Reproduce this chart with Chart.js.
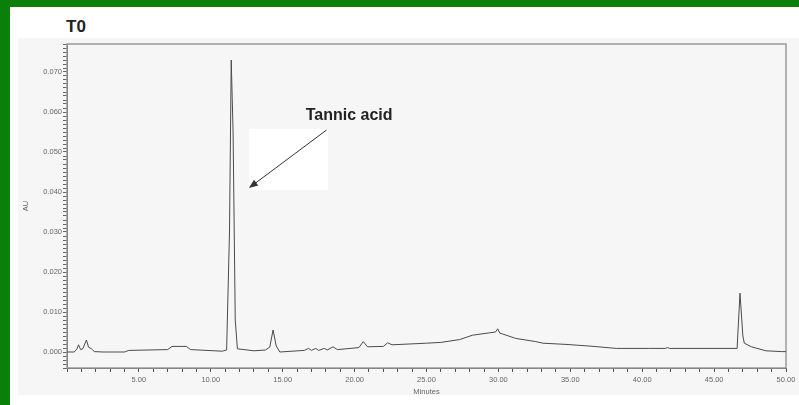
<!DOCTYPE html>
<html>
<head>
<meta charset="utf-8">
<title>T0</title>
<script src="https://cdn.jsdelivr.net/npm/chart.js@4/dist/chart.umd.min.js"></script>
<style>
  html, body { margin: 0; padding: 0; }
  body { width: 799px; height: 405px; background: #0a800a; position: relative; overflow: hidden; }
  #panel { position: absolute; left: 10px; top: 7px; width: 789px; height: 398px; background: #ffffff; }
  #shot { position: absolute; left: 18px; top: 38px; width: 781px; height: 357px; background: #f6f6f6; }
  #label { position: absolute; left: 66px; top: 17px; font: bold 17px "Liberation Sans", Arial, sans-serif; color: #222; }
  #chart { position: absolute; left: 0; top: 0; }
</style>
</head>
<body>
<div id="panel"></div>
<div id="shot"></div>
<div id="label">T0</div>
<canvas id="chart" width="799" height="405"></canvas>
<script>
// retention time (minutes) and absorbance (AU)
const minutes = [
  0.0, 0.5, 0.7, 0.8, 0.95, 1.1, 1.35, 1.5, 1.7, 1.9, 2.5, 4.0, 4.3, 7.0, 7.3, 8.3, 8.6, 10.8,
  11.1, 11.3, 11.42, 11.55, 11.7, 11.85, 13.0, 13.8, 14.1, 14.33, 14.55, 14.8,
  16.5, 16.8, 17.0, 17.3, 17.5, 17.9, 18.1, 18.5, 18.8, 20.3, 20.6, 20.9, 22.0, 22.3, 22.6,
  25.0, 26.0, 27.3, 28.2, 29.4, 29.8, 29.95, 30.1, 30.3, 31.2, 32.6, 33.1, 34.7, 36.3, 38.2,
  40.5, 41.6, 41.75, 41.9, 46.6, 46.8, 47.0, 47.1, 47.6, 48.6, 49.7, 50.0
];
const absorbance = [
  0.0000, 0.0000, 0.0008, 0.0018, 0.0006, 0.0008, 0.0030, 0.0012, 0.0008, 0.0001, 0.0000, 0.0000, 0.0004, 0.0006, 0.0014, 0.0014, 0.0006, 0.0002,
  0.0005, 0.0300, 0.0730, 0.0550, 0.0080, 0.0008, 0.0003, 0.0005, 0.0012, 0.0055, 0.0015, 0.0000,
  0.0004, 0.0009, 0.0004, 0.0009, 0.0004, 0.0009, 0.0005, 0.0013, 0.0006, 0.0011, 0.0026, 0.0013, 0.0014, 0.0023, 0.0018,
  0.0022, 0.0024, 0.0031, 0.0042, 0.0048, 0.0050, 0.0058, 0.0047, 0.0045, 0.0034, 0.0026, 0.0022, 0.0019, 0.0015, 0.0009,
  0.0009, 0.0009, 0.0011, 0.0009, 0.0009, 0.0147, 0.0040, 0.0022, 0.0013, 0.0003, 0.0001, 0.0001
];

const xMin = 0, xMax = 50;
const yMin = -0.004, yMax = 0.077;

// annotation, in data units
const noteText = "Tannic acid";
const noteAt = { x: 16.6, y: 0.0590 };
const arrowFrom = { x: 18.05, y: 0.0555 };
const arrowTo = { x: 12.65, y: 0.0410 };
const patch = { x0: 12.65, x1: 18.15, y0: 0.0405, y1: 0.0558 };

const font = '"Liberation Sans", Arial, sans-serif';

const framePlugin = {
  id: "frame",
  beforeDatasetsDraw(chart) {
    const { ctx, chartArea: a, scales } = chart;
    ctx.save();
    ctx.strokeStyle = "#9a9a9a";
    ctx.lineWidth = 1.5;
    ctx.strokeRect(a.left, a.top, a.right - a.left, a.bottom - a.top);
    // white patch behind the arrow
    const px0 = scales.x.getPixelForValue(patch.x0);
    const px1 = scales.x.getPixelForValue(patch.x1);
    const py0 = scales.y.getPixelForValue(patch.y1);
    const py1 = scales.y.getPixelForValue(patch.y0);
    ctx.fillStyle = "#ffffff";
    ctx.fillRect(px0, py0, px1 - px0, py1 - py0);
    ctx.restore();
  },
};

const notePlugin = {
  id: "note",
  afterDatasetsDraw(chart) {
    const { ctx, scales } = chart;
    const x1 = scales.x.getPixelForValue(arrowFrom.x);
    const y1 = scales.y.getPixelForValue(arrowFrom.y);
    const x2 = scales.x.getPixelForValue(arrowTo.x);
    const y2 = scales.y.getPixelForValue(arrowTo.y);
    const ang = Math.atan2(y2 - y1, x2 - x1);
    ctx.save();
    ctx.strokeStyle = "#333";
    ctx.fillStyle = "#333";
    ctx.lineWidth = 1;
    ctx.beginPath();
    ctx.moveTo(x1, y1);
    ctx.lineTo(x2 - 6 * Math.cos(ang), y2 - 6 * Math.sin(ang));
    ctx.stroke();
    ctx.beginPath();
    ctx.moveTo(x2, y2);
    ctx.lineTo(x2 - 9 * Math.cos(ang) + 3.5 * Math.sin(ang), y2 - 9 * Math.sin(ang) - 3.5 * Math.cos(ang));
    ctx.lineTo(x2 - 9 * Math.cos(ang) - 3.5 * Math.sin(ang), y2 - 9 * Math.sin(ang) + 3.5 * Math.cos(ang));
    ctx.closePath();
    ctx.fill();
    ctx.fillStyle = "#222";
    ctx.font = "bold 16px " + font;
    ctx.textAlign = "left";
    ctx.textBaseline = "middle";
    ctx.fillText(noteText, scales.x.getPixelForValue(noteAt.x), scales.y.getPixelForValue(noteAt.y));
    ctx.restore();
  },
};

const isMajor = (v, step) => Math.abs(v / step - Math.round(v / step)) < 1e-6;

new Chart(document.getElementById("chart"), {
  type: "line",
  data: {
    datasets: [
      {
        data: minutes.map((m, i) => ({ x: m, y: absorbance[i] })),
        borderColor: "#4a4a4a",
        borderWidth: 1,
        pointRadius: 0,
        tension: 0,
        fill: false,
      },
    ],
  },
  options: {
    responsive: false,
    animation: false,
    devicePixelRatio: 1,
    layout: { padding: { left: 0, top: 44, right: 13, bottom: 0 } },
    plugins: { legend: { display: false }, tooltip: { enabled: false }, title: { display: false } },
    scales: {
      x: {
        type: "linear",
        min: xMin,
        max: xMax,
        border: { display: true, color: "#444", width: 1 },
        grid: { display: true, drawOnChartArea: false, drawTicks: true, tickLength: 4, tickColor: "#555" },
        ticks: {
          stepSize: 1,
          autoSkip: false,
          maxRotation: 0,
          padding: 3,
          color: "#666",
          font: { family: font, size: 7.5 },
          callback: (v) => (v > 0 && isMajor(v, 5) ? v.toFixed(2) : ""),
        },
        title: { display: true, text: "Minutes", color: "#666", font: { family: font, size: 7.5 }, padding: { top: 0, bottom: 9 } },
        afterFit(s) { s.height = 37; s.paddingLeft = 0; s.paddingRight = 0; },
      },
      y: {
        min: yMin,
        max: yMax,
        border: { display: true, color: "#444", width: 1 },
        grid: { display: true, drawOnChartArea: false, drawTicks: true, tickLength: 4, tickColor: "#666" },
        ticks: {
          stepSize: 0.001,
          autoSkip: false,
          padding: 1,
          color: "#666",
          font: { family: font, size: 7.5 },
          callback: (v) => (v >= 0 && isMajor(v, 0.01) ? v.toFixed(3) : ""),
        },
        title: { display: true, text: "AU", color: "#666", font: { family: font, size: 7.5 }, padding: { top: 21, bottom: 0 } },
        afterFit(s) { s.width = 67; s.paddingTop = 0; s.paddingBottom = 0; },
      },
    },
  },
  plugins: [framePlugin, notePlugin],
});
</script>
</body>
</html>
